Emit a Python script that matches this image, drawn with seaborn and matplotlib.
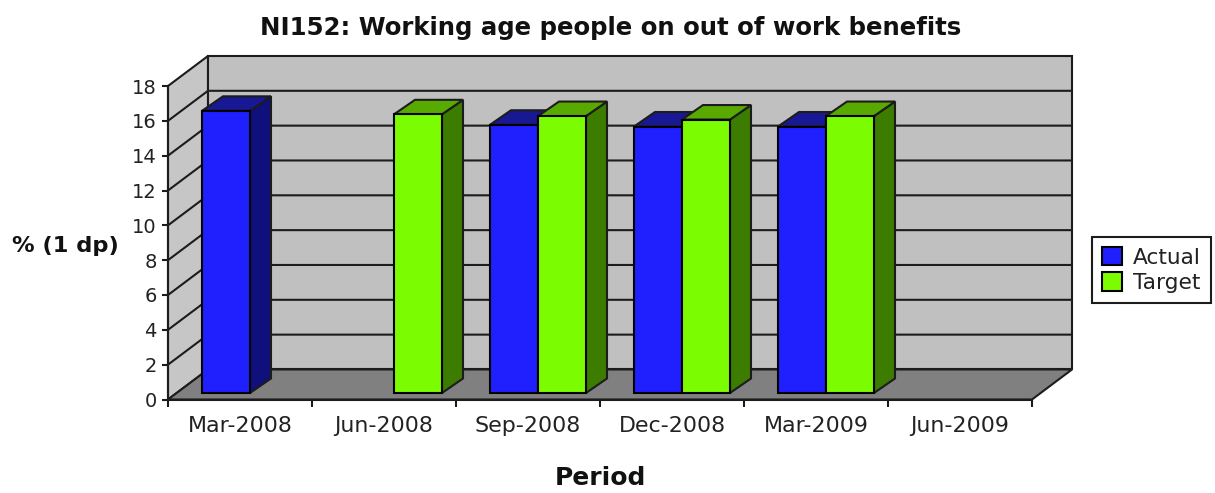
import numpy as np
import pandas as pd
import matplotlib.pyplot as plt
import seaborn as sns
from matplotlib.patches import Polygon
from matplotlib.ticker import MultipleLocator, FixedLocator

PERIODS = ['Mar-2008', 'Jun-2008', 'Sep-2008', 'Dec-2008', 'Mar-2009', 'Jun-2009']
ACTUAL = [16.2, np.nan, 15.4, 15.3, 15.3, np.nan]
TARGET = [np.nan, 16.0, 15.9, 15.7, 15.9, np.nan]
SERIES = ['Actual', 'Target']
COLORS = {'Actual': '#2020ff', 'Target': '#7cfc00'}
SIDE = {'Actual': '#10107c', 'Target': '#3c7c00'}
TOP = {'Actual': '#181894', 'Target': '#58aa00'}

# pixel sizes of the fake 3D box
PX_X = 144.0   # one category
PX_Y = 17.4    # one y unit
DEPTH = (40 / PX_X, 30 / PX_Y)
BAR_SHIFT = (10 / PX_X, 6.5 / PX_Y)
BAR_DEPTH = (21 / PX_X, 14.5 / PX_Y)
LINE = '#1c1c1c'


def poly(ax, pts, color, z, lw=1.5, edge=LINE):
    ax.add_patch(Polygon(pts, closed=True, facecolor=color, edgecolor=edge,
                         linewidth=lw, clip_on=False, zorder=z))


def main():
    sns.set_style('white')
    plt.rcParams['font.family'] = ['DejaVu Sans']

    df = pd.DataFrame({
        'period': PERIODS * 2,
        'value': ACTUAL + TARGET,
        'series': ['Actual'] * len(PERIODS) + ['Target'] * len(PERIODS),
    })

    fig = plt.figure(figsize=(12.15, 4.93), dpi=100)
    ax = fig.add_axes([168 / 1215, (493 - 399.5) / 493, 864 / 1215, 313.5 / 493])

    sns.barplot(data=df, x='period', y='value', hue='series', order=PERIODS,
                hue_order=SERIES, palette=COLORS, width=2 / 3, gap=0,
                errorbar=None, edgecolor='black', linewidth=1.5, saturation=1, ax=ax)

    ax.set_xlim(-0.5, 5.5)
    ax.set_ylim(0, 18)
    ax.patch.set_visible(False)
    x0, x1 = -0.5, 5.5
    dx, dy = DEPTH

    # walls and floor
    poly(ax, [(x0, 0), (x0 + dx, dy), (x0 + dx, 18 + dy), (x0, 18)], '#c6c6c6', 0.5)
    poly(ax, [(x0 + dx, dy), (x1 + dx, dy), (x1 + dx, 18 + dy), (x0 + dx, 18 + dy)], '#c0c0c0', 0.6)
    poly(ax, [(x0, 0), (x1, 0), (x1 + dx, dy), (x0 + dx, dy)], '#808080', 0.7)

    for v in range(2, 18, 2):
        ax.plot([x0, x0 + dx, x1 + dx], [v, v + dy, v + dy], color=LINE, lw=1.5,
                clip_on=False, zorder=0.8)

    # move the seaborn bars onto the floor and give them sides and tops
    for container, name in zip(ax.containers, SERIES):
        for bar in container:
            h = bar.get_height()
            if not np.isfinite(h) or h == 0:
                continue
            bar.set_x(bar.get_x() + BAR_SHIFT[0])
            bar.set_y(BAR_SHIFT[1])
            left = bar.get_x()
            right = left + bar.get_width()
            bottom = bar.get_y()
            top = bottom + h
            bx, by = BAR_DEPTH
            z = 3 + left
            bar.set_zorder(z + 0.2)
            bar.set_clip_on(False)
            poly(ax, [(right, bottom), (right + bx, bottom + by), (right + bx, top + by), (right, top)],
                 SIDE[name], z)
            poly(ax, [(left, top), (left + bx, top + by), (right + bx, top + by), (right, top)],
                 TOP[name], z + 0.1)

    # axes
    sns.despine(ax=ax, top=True, right=True)
    for s in ['left', 'bottom']:
        ax.spines[s].set_color(LINE)
        ax.spines[s].set_linewidth(1.5)
        ax.spines[s].set_zorder(2)
    ax.yaxis.set_major_locator(MultipleLocator(2))
    ax.xaxis.set_minor_locator(FixedLocator(np.arange(-0.5, 6, 1)))
    ax.tick_params(axis='x', which='major', length=0, pad=12, labelsize=15.9, labelcolor='#222222')
    ax.tick_params(axis='x', which='minor', bottom=True, length=5, width=1.5, color=LINE)
    ax.tick_params(axis='y', which='major', left=True, length=4, width=1.5, color=LINE, pad=4,
                   labelsize=14, labelcolor='#222222')

    ax.set_xlabel('')
    ax.set_ylabel('')
    fig.text(611 / 1215, 1 - 28 / 493, 'NI152: Working age people on out of work benefits',
             ha='center', va='center', fontsize=17.6, fontweight='bold', color='#111111')
    fig.text(65 / 1215, 1 - 246 / 493, '% (1 dp)', ha='center', va='center',
             fontsize=16.2, fontweight='bold', color='#111111')
    fig.text(600 / 1215, 1 - 478 / 493, 'Period', ha='center', va='center',
             fontsize=18, fontweight='bold', color='#111111')

    handles, labels = ax.get_legend_handles_labels()
    ax.get_legend().remove()
    leg = fig.legend(handles, labels, loc='upper left', bbox_to_anchor=(1092 / 1215, 1 - 237 / 493),
                     borderaxespad=0, fontsize=15.6, fancybox=False, framealpha=1, edgecolor=LINE,
                     handlelength=0.93, handleheight=0.93, handletextpad=0.5, labelspacing=0.22,
                     borderpad=0.46, labelcolor='#222222')
    leg.get_frame().set_linewidth(1.5)

    fig.savefig('out.png', dpi=100)


if __name__ == '__main__':
    main()
